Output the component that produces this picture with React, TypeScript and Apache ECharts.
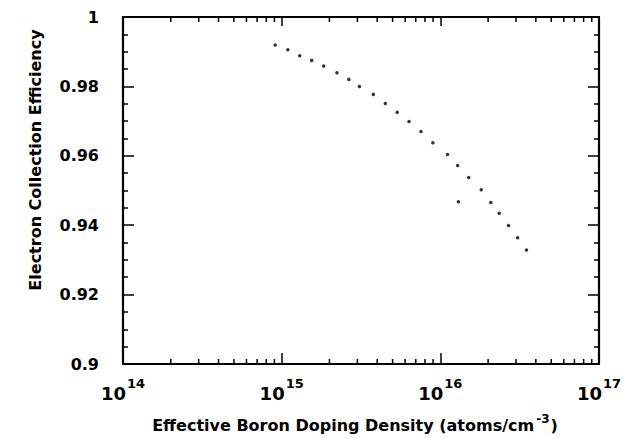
import React, { useEffect, useRef } from "react";
import * as echarts from "echarts";

// Effective boron doping density (atoms/cm^-3)
const dopingDensity: number[] = [
  9.1e14, 1.094e15, 1.3e15, 1.545e15, 1.84e15, 2.23e15, 2.65e15, 3.09e15,
  3.78e15, 4.5e15, 5.35e15, 6.35e15, 7.55e15, 8.97e15, 1.11e16, 1.285e16,
  1.51e16, 1.81e16, 2.08e16, 2.35e16, 2.69e16, 3.07e16, 3.49e16,
];
// Electron collection efficiency
const efficiency: number[] = [
  0.99196, 0.99059, 0.98882, 0.9875, 0.98585, 0.98396, 0.98202, 0.97997,
  0.9777, 0.97507, 0.97253, 0.9699, 0.96699, 0.96379, 0.9604, 0.95721,
  0.95373, 0.95024, 0.94656, 0.94346, 0.9399, 0.93637, 0.93287,
];
// isolated point below the curve
const strayDensity: number[] = [1.3e16];
const strayEfficiency: number[] = [0.94673];

const xMin = 1e14;
const xMax = 1e17;
const yMin = 0.9;
const yMax = 1;
const yInterval = 0.02;
const minorDecades: number[] = [14, 15, 16];
const minorMultipliers: number[] = [2, 3, 4, 5, 6, 7, 8, 9];

const FONT = "DejaVu Sans";

export default function App() {
  const ref = useRef<HTMLDivElement>(null);

  useEffect(() => {
    if (!ref.current) return;
    const chart = echarts.init(ref.current, null, { renderer: "svg" });

    const minorTicks: number[][] = [];
    minorDecades.forEach((d) =>
      minorMultipliers.forEach((m) => minorTicks.push([m * Math.pow(10, d), yMin]))
    );

    const pts = dopingDensity.map((x, i) => [x, efficiency[i]]);
    const stray = strayDensity.map((x, i) => [x, strayEfficiency[i]]);

    const axisLine = { show: true, onZero: false, lineStyle: { color: "#000", width: 2.2 } };

    const option: any = {
      animation: false,
      backgroundColor: "#fff",
      grid: { left: 123, right: 37, top: 17, bottom: 71, containLabel: false },
      xAxis: [
        {
          type: "log",
          logBase: 10,
          min: xMin,
          max: xMax,
          position: "bottom",
          axisLine,
          axisTick: { show: true, inside: true, length: 11, lineStyle: { color: "#000", width: 1.5 } },
          splitLine: { show: false },
          axisLabel: {
            margin: 20,
            formatter: (v: number) => `{b|10}{s|${Math.round(Math.log10(v))}}`,
            rich: {
              b: { fontFamily: FONT, fontWeight: "bold", fontSize: 18, color: "#000", lineHeight: 18, verticalAlign: "bottom" },
              s: { fontFamily: FONT, fontWeight: "bold", fontSize: 13, color: "#000", lineHeight: 14, padding: [0, 0, 12, 1], verticalAlign: "bottom" },
            },
          },
          name: "Effective Boron Doping Density (atoms/cm{s|-3})",
          nameLocation: "middle",
          nameGap: 49,
          nameTextStyle: {
            fontFamily: FONT,
            fontWeight: "bold",
            fontSize: 16,
            color: "#000",
            padding: [0, 12, 0, 0],
            rich: {
              s: { fontFamily: FONT, fontWeight: "bold", fontSize: 12, color: "#000", padding: [0, 1, 12, 2], verticalAlign: "bottom" },
            },
          },
        },
        {
          type: "log",
          logBase: 10,
          min: xMin,
          max: xMax,
          position: "top",
          axisLine,
          axisTick: { show: true, inside: true, length: 9, lineStyle: { color: "#000", width: 1.5 } },
          axisLabel: { show: false },
          splitLine: { show: false },
        },
      ],
      yAxis: [
        {
          type: "value",
          min: yMin,
          max: yMax,
          interval: yInterval,
          position: "left",
          axisLine,
          axisTick: { show: true, inside: true, length: 11, lineStyle: { color: "#000", width: 1.5 } },
          minorTick: { show: true, splitNumber: 4, length: 5, lineStyle: { color: "#000", width: 1.5 } },
          splitLine: { show: false },
          axisLabel: {
            margin: 24,
            fontFamily: FONT,
            fontWeight: "bold",
            fontSize: 16,
            color: "#000",
          },
        },
        {
          type: "value",
          min: yMin,
          max: yMax,
          interval: yInterval,
          position: "right",
          axisLine,
          axisTick: { show: true, inside: true, length: 11, lineStyle: { color: "#000", width: 1.5 } },
          minorTick: { show: true, splitNumber: 4, length: 5, lineStyle: { color: "#000", width: 1.5 } },
          splitLine: { show: false },
          axisLabel: { show: false },
        },
      ],
      graphic: [
        {
          type: "text",
          x: 35,
          y: 160,
          rotation: Math.PI / 2,
          style: {
            text: "Electron Collection Efficiency",
            font: `bold 16px "${FONT}"`,
            fill: "#000",
            textAlign: "center",
            textVerticalAlign: "middle",
          },
        },
      ],
      series: [
        {
          type: "custom",
          xAxisIndex: 0,
          yAxisIndex: 0,
          silent: true,
          clip: false,
          data: minorTicks,
          renderItem: (_params: any, api: any) => {
            const v = api.value(0);
            const b = api.coord([v, yMin]);
            const t = api.coord([v, yMax]);
            return {
              type: "group",
              children: [
                { type: "line", shape: { x1: b[0], y1: b[1], x2: b[0], y2: b[1] - 5 }, style: { stroke: "#000", lineWidth: 1.5 } },
                { type: "line", shape: { x1: t[0], y1: t[1], x2: t[0], y2: t[1] + 5 }, style: { stroke: "#000", lineWidth: 1.5 } },
              ],
            };
          },
        },
        {
          type: "scatter",
          xAxisIndex: 0,
          yAxisIndex: 0,
          data: pts,
          symbol: "circle",
          symbolSize: 3.5,
          itemStyle: { color: "#000" },
          silent: true,
        },
        {
          type: "scatter",
          xAxisIndex: 0,
          yAxisIndex: 0,
          data: stray,
          symbol: "circle",
          symbolSize: 3.5,
          itemStyle: { color: "#000" },
          silent: true,
        },
      ],
    };

    chart.setOption(option);
    return () => chart.dispose();
  }, []);

  return (
    <div
      ref={ref}
      style={{ position: "absolute", left: 0, top: 0, width: 636, height: 438, background: "#fff" }}
    />
  );
}
